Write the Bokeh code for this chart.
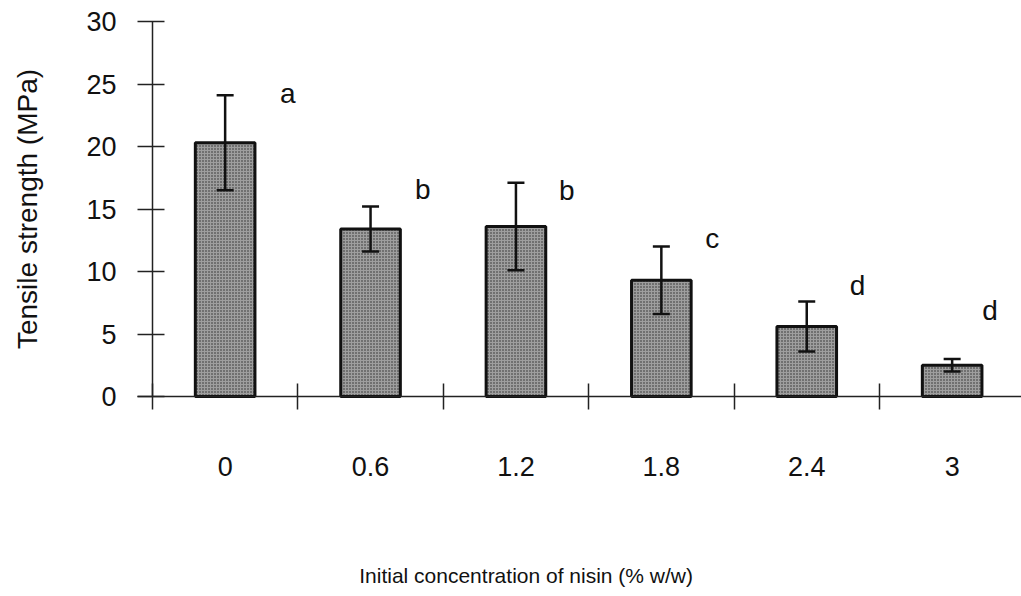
import math
from bokeh.plotting import figure
from bokeh.models import (ColumnDataSource, FixedTicker, Whisker, TeeHead,
                          LabelSet, Label, Range1d)
from bokeh.core.properties import value
from bokeh.embed import file_html
from bokeh.resources import INLINE

# ---- data ----
categories = ["0", "0.6", "1.2", "1.8", "2.4", "3"]
tensile = [20.3, 13.4, 13.6, 9.3, 5.6, 2.5]
err = [3.8, 1.8, 3.5, 2.7, 2.0, 0.5]
letters = ["a", "b", "b", "c", "d", "d"]
letter_y = [23.5, 15.8, 15.7, 11.9, 8.1, 6.1]
letter_dx = [0.43, 0.36, 0.35, 0.35, 0.35, 0.26]
y_ticks = [0, 5, 10, 15, 20, 25, 30]

xc = [i + 0.5 for i in range(len(categories))]
src = ColumnDataSource(dict(
    x=xc, top=tensile,
    upper=[v + e for v, e in zip(tensile, err)],
    lower=[v - e for v, e in zip(tensile, err)],
))
lsrc = ColumnDataSource(dict(
    x=[c + d for c, d in zip(xc, letter_dx)], y=letter_y, t=letters))

FONT = "Liberation Sans"

# frame covers the whole canvas; axes are pinned at x=0 / y=0
p = figure(width=1021, height=596, output_backend="svg", toolbar_location=None,
           x_range=Range1d(-1.045, 5.977), y_range=Range1d(-16.0, 31.68),
           min_border_left=0, min_border_top=0, min_border_bottom=0,
           min_border_right=0, background_fill_color="white",
           border_fill_color="white", outline_line_color=None)
p.grid.visible = False

p.vbar(x="x", top="top", width=0.41, bottom=0, source=src,
       fill_color="#9e9e9e", line_color="#111111", line_width=3,
       hatch_pattern="dot", hatch_scale=3, hatch_color="#2a2a2a",
       hatch_weight=1.2)

wh = Whisker(base="x", upper="upper", lower="lower", source=src,
             line_color="#111111", line_width=2.5, level="overlay",
             upper_head=TeeHead(size=17, line_width=2.5, line_color="#111111"),
             lower_head=TeeHead(size=17, line_width=2.5, line_color="#111111"))
p.add_layout(wh)

p.add_layout(LabelSet(x="x", y="y", text="t", source=lsrc,
                      text_font=value(FONT), text_font_size="28px",
                      text_color="#111111", text_align="center",
                      text_baseline="alphabetic"))

# y axis
ya = p.yaxis[0]
ya.fixed_location = 0
ya.bounds = (0, 30)
ya.ticker = FixedTicker(ticks=y_ticks, minor_ticks=[])
ya.axis_line_color = "#222222"
ya.axis_line_width = 1.5
ya.major_tick_line_color = "#222222"
ya.major_tick_line_width = 1.5
ya.major_tick_in = 12
ya.major_tick_out = 15
ya.minor_tick_line_color = None
ya.major_label_text_font = FONT
ya.major_label_text_font_size = "27px"
ya.major_label_text_color = "#111111"
ya.major_label_standoff = 21

# x axis: labels at category centers, separator ticks at boundaries
xa = p.xaxis[0]
xa.fixed_location = 0
xa.bounds = (-0.1, 5.977)
xa.ticker = FixedTicker(ticks=xc, minor_ticks=list(range(len(categories) + 1)))
xa.major_label_overrides = {c: lab for c, lab in zip(xc, categories)}
xa.axis_line_color = "#222222"
xa.axis_line_width = 1.5
xa.major_tick_line_color = None
xa.major_tick_in = 0
xa.major_tick_out = 0
xa.minor_tick_line_color = "#222222"
xa.minor_tick_line_width = 1.5
xa.minor_tick_in = 13
xa.minor_tick_out = 13
xa.major_label_text_font = FONT
xa.major_label_text_font_size = "27px"
xa.major_label_text_color = "#111111"
xa.major_label_standoff = 47

p.add_layout(Label(x=-0.86, y=15.0, text="Tensile strength (MPa)",
                   angle=math.pi / 2, text_font=FONT, text_font_size="28px",
                   text_color="#111111", text_align="center",
                   text_baseline="middle"))
p.add_layout(Label(x=2.57, y=-14.3, text="Initial concentration of nisin (% w/w)",
                   text_font=FONT, text_font_size="21px",
                   text_color="#111111", text_align="center",
                   text_baseline="middle"))

open("out.html", "w").write(file_html(p, INLINE))
